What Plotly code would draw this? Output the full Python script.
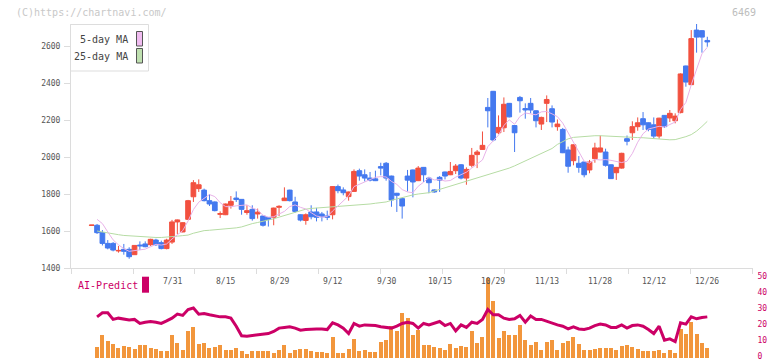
import plotly.graph_objects as go

W, H = 772, 361

# ---------------- data ----------------
date_labels = ["7/31", "8/15", "8/29", "9/12", "9/30", "10/15", "10/29", "11/13", "11/28", "12/12", "12/26"]
date_label_idx = [15, 25, 35, 45, 55, 65, 75, 85, 95, 105, 115]

opens = [1630, 1631, 1591, 1533, 1533, 1492, 1501, 1501, 1472, 1524,
         1530, 1526, 1551, 1537, 1505, 1540, 1649, 1595, 1663, 1785,
         1829, 1821, 1764, 1757, 1690, 1688, 1739, 1778, 1771, 1700,
         1717, 1692, 1681, 1672, 1674, 1728, 1764, 1821, 1757, 1688,
         1657, 1703, 1703, 1692, 1681, 1688, 1840, 1822, 1786, 1814,
         1926, 1904, 1886, 1882, 1948, 1966, 1897, 1804, 1775, 1897,
         1930, 1872, 1944, 1886, 1822, 1890, 1919, 1904, 1926, 1958,
         1886, 1955, 2013, 2041, 2268, 2355, 2131, 2158, 2290, 2170,
         2322, 2262, 2290, 2250, 2178, 2290, 2261, 2164, 2149, 2038,
         1980, 1966, 1973, 1930, 1991, 2027, 2027, 1958, 1915, 1940,
         2099, 2131, 2164, 2207, 2185, 2174, 2113, 2225, 2211, 2196,
         2240, 2492, 2391, 2686, 2683, 2630]
highs = [1632, 1638, 1605, 1551, 1540, 1519, 1530, 1512, 1522, 1544,
         1544, 1558, 1558, 1548, 1558, 1660, 1662, 1647, 1768, 1875,
         1879, 1829, 1800, 1760, 1706, 1748, 1789, 1814, 1771, 1739,
         1739, 1721, 1683, 1674, 1726, 1739, 1836, 1823, 1785, 1690,
         1695, 1739, 1725, 1703, 1710, 1842, 1851, 1836, 1813, 1933,
         1937, 1933, 1919, 1926, 1969, 1973, 1899, 1806, 1777, 1930,
         1932, 1951, 1946, 1893, 1825, 1897, 1921, 1973, 1962, 1962,
         1944, 2049, 2038, 2138, 2319, 2357, 2225, 2322, 2292, 2172,
         2330, 2290, 2319, 2252, 2218, 2333, 2279, 2203, 2157, 2056,
         2068, 2005, 1975, 1984, 2077, 2116, 2045, 1960, 1946, 2023,
         2116, 2193, 2214, 2243, 2187, 2214, 2212, 2227, 2254, 2236,
         2452, 2494, 2686, 2719, 2686, 2650]
lows = [1630, 1584, 1522, 1501, 1490, 1483, 1472, 1450, 1472, 1497,
        1512, 1519, 1519, 1501, 1501, 1530, 1584, 1593, 1660, 1757,
        1811, 1760, 1735, 1706, 1670, 1686, 1721, 1757, 1688, 1688,
        1656, 1667, 1624, 1624, 1631, 1681, 1762, 1760, 1699, 1652,
        1634, 1663, 1652, 1652, 1659, 1663, 1804, 1793, 1764, 1812,
        1872, 1868, 1868, 1870, 1901, 1872, 1731, 1703, 1667, 1814,
        1782, 1870, 1865, 1804, 1807, 1811, 1879, 1902, 1908, 1879,
        1850, 1944, 1940, 2039, 2160, 2085, 2124, 2135, 2214, 2027,
        2240, 2207, 2236, 2160, 2146, 2189, 2160, 2142, 2021, 1915,
        1955, 1915, 1890, 1912, 1969, 2025, 1948, 1881, 1876, 1937,
        2063, 2092, 2142, 2146, 2139, 2099, 2099, 2157, 2189, 2182,
        2236, 2380, 2389, 2564, 2564, 2596]
closes = [1632, 1591, 1533, 1508, 1497, 1495, 1490, 1461, 1522, 1520,
          1515, 1555, 1526, 1505, 1551, 1649, 1660, 1645, 1764, 1861,
          1850, 1764, 1746, 1710, 1694, 1746, 1760, 1770, 1717, 1710,
          1667, 1702, 1631, 1663, 1724, 1733, 1778, 1764, 1706, 1659,
          1688, 1677, 1674, 1677, 1674, 1840, 1818, 1807, 1811, 1922,
          1897, 1886, 1875, 1872, 1940, 1886, 1768, 1793, 1735, 1875,
          1865, 1940, 1904, 1861, 1811, 1875, 1897, 1922, 1951, 1886,
          1933, 2009, 2027, 2063, 2250, 2092, 2160, 2285, 2217, 2131,
          2304, 2254, 2254, 2196, 2214, 2311, 2189, 2178, 2023, 1950,
          2066, 1944, 1904, 1973, 2049, 2049, 1955, 1883, 1944, 2020,
          2085, 2164, 2185, 2174, 2149, 2113, 2210, 2164, 2236, 2221,
          2449, 2405, 2640, 2648, 2648, 2622]

ma5 = [None, 1663, 1640, 1595, 1552, 1525, 1505, 1490, 1493, 1498,
       1502, 1515, 1528, 1524, 1530, 1557, 1578, 1602, 1654, 1716,
       1756, 1777, 1797, 1786, 1753, 1732, 1731, 1736, 1737, 1741,
       1725, 1713, 1685, 1675, 1677, 1691, 1706, 1732, 1741, 1728,
       1719, 1699, 1681, 1675, 1678, 1708, 1737, 1763, 1790, 1840,
       1851, 1865, 1878, 1890, 1894, 1892, 1868, 1852, 1824, 1811,
       1807, 1842, 1864, 1889, 1876, 1878, 1870, 1873, 1891, 1906,
       1918, 1940, 1961, 1984, 2056, 2088, 2118, 2170, 2201, 2177,
       2219, 2238, 2232, 2228, 2244, 2246, 2233, 2218, 2183, 2130,
       2081, 2032, 1977, 1967, 1987, 1984, 1986, 1982, 1976, 1970,
       1977, 2019, 2080, 2126, 2151, 2157, 2166, 2162, 2174, 2189,
       2256, 2295, 2390, 2473, 2558, 2593]
ma25 = [None, 1600, 1594, 1590, 1584, 1580, 1576, 1574, 1570, 1567,
        1566, 1566, 1565, 1565, 1566, 1568, 1572, 1575, 1578, 1588,
        1596, 1602, 1604, 1606, 1607, 1609, 1613, 1617, 1622, 1632,
        1640, 1646, 1652, 1660, 1666, 1675, 1684, 1692, 1702, 1712,
        1718, 1722, 1724, 1725, 1726, 1728, 1730, 1733, 1735, 1738,
        1740, 1742, 1746, 1750, 1754, 1757, 1766, 1774, 1780, 1786,
        1795, 1800, 1803, 1807, 1816, 1825, 1832, 1840, 1849, 1858,
        1869, 1878, 1885, 1894, 1903, 1912, 1921, 1929, 1940, 1952,
        1965, 1979, 1993, 2005, 2019, 2031, 2046, 2068, 2085, 2098,
        2106, 2109, 2111, 2113, 2115, 2115, 2113, 2112, 2110, 2109,
        2107, 2106, 2105, 2104, 2102, 2098, 2095, 2093, 2093, 2094,
        2101, 2110, 2121, 2140, 2165, 2193]

ai_bars = [None,
           7.3, 14.8, 11.0, 9.2, 6.7, 7.9, 7.3, 6.0, 8.5, 8.5,
           6.7, 6.0, 4.8, 4.8, 14.2, 9.8, 5.4, 16.7, 19.8, 9.2,
           9.8, 6.7, 7.3, 8.5, 5.4, 5.4, 6.7, 4.8, 2.9, 4.8,
           4.8, 4.8, 4.8, 3.5, 5.4, 8.5, 3.5, 5.4, 6.0, 6.0,
           4.8, 4.2, 4.2, 3.5, 13.5, 3.5, 3.5, 6.0, 12.3, 4.8,
           5.4, 4.2, 4.2, 10.4, 11.7, 20.4, 16.7, 28.5, 25.4, 14.8,
           17.9, 8.5, 8.5, 7.3, 6.7, 5.4, 9.2, 6.7, 7.9, 7.3,
           17.3, 9.8, 13.5, 49.8, 35.4, 12.9, 16.7, 14.2, 14.2, 21.0,
           11.7, 8.5, 10.4, 5.4, 10.4, 11.5, 5.4, 9.8, 11.0, 13.5,
           9.2, 5.4, 5.4, 6.0, 6.7, 6.7, 6.7, 5.4, 7.9, 8.5,
           7.3, 6.0, 4.8, 4.8, 4.8, 5.4, 3.5, 5.4, 3.5, 18.5,
           15.0, 22.3, 15.4, 9.8, 6.7]
ai_line = [None,
           25.8, 28.3, 28.3, 24.2, 25.0, 24.6, 23.8, 24.2, 21.7, 22.5,
           22.9, 22.5, 21.7, 23.3, 25.0, 27.5, 26.7, 30.4, 31.3, 27.5,
           27.9, 27.1, 26.3, 25.8, 25.8, 25.0, 20.0, 14.0, 13.8, 14.2,
           14.6, 14.6, 15.4, 16.7, 18.8, 19.2, 19.6, 18.8, 17.5, 17.9,
           18.3, 18.3, 18.3, 17.9, 22.1, 20.8, 18.8, 15.4, 21.7, 20.0,
           20.8, 20.8, 20.4, 19.6, 19.2, 18.8, 20.0, 21.7, 22.5, 21.7,
           18.8, 21.7, 20.8, 21.7, 22.9, 20.4, 21.7, 17.1, 20.8, 19.2,
           22.5, 21.7, 24.2, 30.4, 27.1, 27.1, 25.0, 24.2, 24.6, 26.7,
           22.5, 26.3, 24.2, 24.2, 22.9, 21.7, 20.8, 20.0, 18.3, 19.6,
           18.3, 17.9, 18.8, 20.4, 21.3, 20.8, 19.2, 19.2, 20.8, 18.8,
           20.4, 20.8, 20.0, 17.9, 15.4, 20.0, 11.3, 12.1, 10.4, 22.1,
           21.3, 25.8, 24.6, 25.4, 25.8]

price_ticks = [1400, 1600, 1800, 2000, 2200, 2400, 2600]
ai_ticks = [0, 10, 20, 30, 40, 50]

n = len(closes)
xs = list(range(n))

# ---------------- styling / geometry ----------------
RED = "#f2503f"
BLUE = "#4479ef"
PINK = "#e8b2e8"
GREEN = "#b6dca4"
MAG = "#cc0066"
ORANGE = "#f2963c"
AXC = "#dcdcdc"
MONO = "DejaVu Sans Mono, Liberation Mono, monospace"

X0_PX, STEP_PX = 91.7, 5.353          # pixel position of first candle, spacing
def ix(px):
    return (px - X0_PX) / STEP_PX
def py(px):
    return (H - px) / H
def pxp(px):
    return px / W

XL, XR = 71.0, 752.5
xrange_ = [ix(XL), ix(XR)]
tick_px = [71, 133, 194.3, 256.7, 318.3, 380.3, 442.3, 504.3, 566.7, 628.7, 690.3, 752.3]
tick_idx = [ix(p) for p in tick_px]

fig = go.Figure()

fig.add_trace(go.Scatter(x=xs, y=ma25, mode="lines", line=dict(color=GREEN, width=1),
                         showlegend=False, hoverinfo="skip", xaxis="x", yaxis="y"))
fig.add_trace(go.Scatter(x=xs, y=ma5, mode="lines", line=dict(color=PINK, width=1),
                         showlegend=False, hoverinfo="skip", xaxis="x", yaxis="y"))
fig.add_trace(go.Candlestick(
    x=xs, open=opens, high=highs, low=lows, close=closes,
    increasing=dict(line=dict(color=RED, width=1), fillcolor=RED),
    decreasing=dict(line=dict(color=BLUE, width=1), fillcolor=BLUE),
    whiskerwidth=0, showlegend=False, hoverinfo="skip", xaxis="x", yaxis="y"))

fig.add_trace(go.Bar(x=xs, y=ai_bars, width=0.75, marker=dict(color=ORANGE, line=dict(width=0)),
                     showlegend=False, hoverinfo="skip", xaxis="x2", yaxis="y2"))
fig.add_trace(go.Scatter(x=xs, y=ai_line, mode="lines", line=dict(color=MAG, width=3),
                         showlegend=False, hoverinfo="skip", xaxis="x2", yaxis="y2"))

main_bottom, main_top = 268.0, 24.0
y_per_px = 200 / 37.0
main_range = [1400, 1400 + (main_bottom - main_top) * y_per_px]
sub_bottom, sub_top = 358.3, 278.0

fig.update_layout(
    width=W, height=H, margin=dict(l=0, r=0, t=0, b=0, autoexpand=False),
    paper_bgcolor="white", plot_bgcolor="white",
    boxgap=0.12, boxgroupgap=0, bargap=0, hovermode=False,
    xaxis=dict(domain=[pxp(XL), pxp(XR)], range=xrange_, anchor="y", automargin=False,
               showgrid=False, zeroline=False, showline=True, linecolor=AXC, linewidth=1,
               ticks="outside", tickvals=tick_idx, ticklen=5, tickcolor=AXC, tickwidth=1,
               showticklabels=False, rangeslider=dict(visible=False), fixedrange=True),
    yaxis=dict(domain=[py(main_bottom), py(main_top)], range=main_range, anchor="x",
               automargin=False, ticklabeloverflow="allow",
               showgrid=False, zeroline=False, showline=True, linecolor=AXC, linewidth=1,
               ticks="outside", tickvals=price_ticks, ticklen=6, tickcolor=AXC, tickwidth=1,
               tickfont=dict(family=MONO, size=8, color="#555555"), ticklabelstandoff=2),
    xaxis2=dict(domain=[pxp(XL), pxp(XR)], range=xrange_, anchor="y2", visible=False,
                automargin=False),
    yaxis2=dict(domain=[py(sub_bottom), py(sub_top)], range=[0, 50], anchor="x2", side="right",
                automargin=False, ticklabeloverflow="allow", ticklabelshift=-2,
                showgrid=False, zeroline=False, showline=False, ticks="",
                tickvals=ai_ticks, tickfont=dict(family=MONO, size=8, color=MAG),
                ticklabelstandoff=4),
)

annotations = []
for lab, i in zip(date_labels, date_label_idx):
    annotations.append(dict(x=i, y=py(281.7), xref="x", yref="paper", text=lab, showarrow=False,
                            font=dict(family=MONO, size=8, color="#555555"),
                            xanchor="center", yanchor="middle"))
annotations += [
    dict(x=pxp(14), y=py(12.5), xref="paper", yref="paper", text="(C)https://chartnavi.com/",
         showarrow=False, font=dict(family=MONO, size=10, color="#c8c8c8"),
         xanchor="left", yanchor="middle"),
    dict(x=pxp(757.5), y=py(12), xref="paper", yref="paper", text="6469",
         showarrow=False, font=dict(family=MONO, size=10, color="#bdbdbd"),
         xanchor="right", yanchor="middle"),
    dict(x=pxp(130), y=py(39.5), xref="paper", yref="paper", text="5-day MA",
         showarrow=False, font=dict(family=MONO, size=10, color="#444444"),
         xanchor="right", yanchor="middle"),
    dict(x=pxp(130), y=py(56.5), xref="paper", yref="paper", text="25-day MA",
         showarrow=False, font=dict(family=MONO, size=10, color="#444444"),
         xanchor="right", yanchor="middle"),
    dict(x=pxp(75.5), y=py(285.5), xref="paper", yref="paper", text="AI-Predict",
         showarrow=False, font=dict(family=MONO, size=10, color=MAG),
         xanchor="left", yanchor="middle"),
]

shapes = [
    dict(type="rect", xref="paper", yref="paper", x0=pxp(70.5), x1=pxp(148.5),
         y0=py(71), y1=py(24.5), line=dict(color="#dddddd", width=1), fillcolor="white"),
    dict(type="rect", xref="paper", yref="paper", x0=pxp(136.5), x1=pxp(142.5),
         y0=py(46), y1=py(31.5), line=dict(color="#555555", width=1), fillcolor="#f0bcf0"),
    dict(type="rect", xref="paper", yref="paper", x0=pxp(136.5), x1=pxp(142.5),
         y0=py(63), y1=py(48.5), line=dict(color="#555555", width=1), fillcolor="#bfe0b0"),
    dict(type="rect", xref="paper", yref="paper", x0=pxp(142), x1=pxp(149),
         y0=py(292.7), y1=py(276.7), line=dict(width=0), fillcolor=MAG),
]

fig.update_layout(annotations=annotations, shapes=shapes)

fig.write_html("out.html", config={"displayModeBar": False, "responsive": False},
               post_script="document.body.style.margin='0px';document.body.style.overflow='hidden';")
